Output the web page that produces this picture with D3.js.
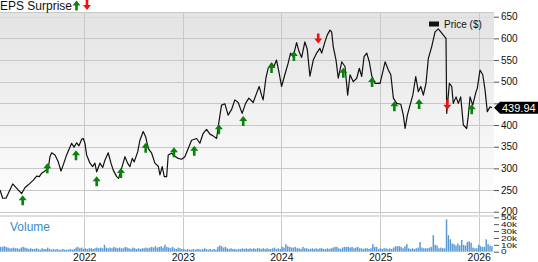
<!DOCTYPE html>
<html>
<head>
<meta charset="utf-8">
<script src="https://d3js.org/d3.v7.min.js"></script>
<style>
  body { margin: 0; background: #fff; }
  svg { display: block; font-family: "Liberation Sans", Arial, sans-serif; }
</style>
</head>
<body>
<script>
// Price line (dates are decimal years, close in $)
var priceDates = [
  2021.145, 2021.172, 2021.206, 2021.274, 2021.331, 2021.365, 2021.399, 2021.432, 2021.483, 2021.517,
  2021.544, 2021.568, 2021.601, 2021.635, 2021.652, 2021.669, 2021.703, 2021.736, 2021.764, 2021.787,
  2021.821, 2021.872, 2021.896, 2021.923, 2021.946, 2021.974, 2021.990, 2022.007, 2022.024, 2022.058,
  2022.085, 2022.108, 2022.126, 2022.159, 2022.187, 2022.210, 2022.243, 2022.271, 2022.294, 2022.329,
  2022.349, 2022.379, 2022.413, 2022.440, 2022.463, 2022.487, 2022.507, 2022.542, 2022.565, 2022.598,
  2022.623, 2022.649, 2022.684, 2022.717, 2022.751, 2022.768, 2022.791, 2022.812, 2022.836, 2022.852,
  2022.886, 2022.920, 2022.953, 2022.988, 2023.021, 2023.055, 2023.089, 2023.140, 2023.173, 2023.207,
  2023.241, 2023.275, 2023.308, 2023.343, 2023.359, 2023.393, 2023.427, 2023.460, 2023.495, 2023.528,
  2023.562, 2023.602, 2023.637, 2023.670, 2023.714, 2023.748, 2023.775, 2023.799, 2023.815, 2023.843,
  2023.866, 2023.901, 2023.924, 2023.951, 2023.978, 2024.002, 2024.035, 2024.069, 2024.093, 2024.120,
  2024.154, 2024.180, 2024.205, 2024.238, 2024.262, 2024.289, 2024.323, 2024.357, 2024.390, 2024.408,
  2024.441, 2024.465, 2024.492, 2024.509, 2024.525, 2024.553, 2024.576, 2024.611, 2024.644, 2024.671,
  2024.695, 2024.728, 2024.763, 2024.789, 2024.813, 2024.837, 2024.864, 2024.890, 2024.915, 2024.948,
  2024.999, 2025.050, 2025.083, 2025.108, 2025.134, 2025.168, 2025.209, 2025.235, 2025.253, 2025.276,
  2025.303, 2025.331, 2025.361, 2025.387, 2025.412, 2025.438, 2025.465, 2025.489, 2025.523, 2025.557,
  2025.590, 2025.625, 2025.668, 2025.675, 2025.702, 2025.726, 2025.742, 2025.770, 2025.793, 2025.817,
  2025.844, 2025.878, 2025.895, 2025.912, 2025.939, 2025.973, 2025.986, 2026.013, 2026.041, 2026.064,
  2026.087, 2026.115, 2026.135
];
var priceValues = [
  250, 231, 231, 264, 250, 242, 256, 262, 273, 282,
  281, 289, 294, 300, 327, 336, 331, 315, 294, 308,
  331, 358, 349, 359, 352, 367, 369, 358, 331, 312,
  304, 312, 292, 312, 302, 319, 336, 312, 296, 281,
  277, 300, 327, 312, 304, 323, 315, 338, 365, 385,
  373, 346, 335, 312, 305, 285, 304, 281, 281, 331,
  335, 328, 323, 321, 327, 346, 365, 369, 358, 381,
  390, 379, 375, 369, 396, 446, 449, 423, 436, 458,
  452, 427, 450, 462, 452, 473, 489, 469, 458, 508,
  531, 543, 535, 550, 519, 489, 516, 543, 566, 558,
  590, 569, 556, 592, 575, 513, 550, 566, 577, 566,
  592, 608, 619, 615, 581, 550, 508, 546, 535, 469,
  516, 500, 508, 531, 512, 558, 566, 546, 513, 496,
  496, 546, 527, 516, 462, 450, 448, 423, 392, 423,
  446, 469, 512, 477, 489, 469, 496, 554, 581, 615,
  622, 612, 600, 427, 496, 489, 450, 465, 450, 465,
  400, 392, 423, 465, 446, 477, 485, 527, 516, 481,
  431, 442, 439.94
];
var lastPrice = 439.94;

// EPS surprise markers (report date, price at marker, direction)
var epsDates = [2021.375, 2021.625, 2021.916, 2022.126, 2022.372, 2022.623, 2022.910, 2023.116, 2023.366, 2023.613,
                2023.900, 2024.127, 2024.373, 2024.627, 2024.918, 2025.144, 2025.395, 2025.681, 2025.929];
var epsPrices = [238, 312, 342, 282, 301, 359, 349, 352, 402, 421,
                 543, 571, 588, 532, 511, 455, 460, 435, 448];
var epsSurprise = ["up", "up", "up", "up", "up", "up", "up", "up", "up", "up",
                   "up", "up", "down", "up", "up", "up", "up", "down", "up"];

// Weekly volume in thousands, first week starts 2021-02-22
var volumeK = [
  // 2021
  7, 7, 8, 7, 6, 5, 5, 6, 5, 5, 4, 6, 7, 6, 5, 4, 5, 4, 4, 5, 4, 3, 5, 4, 4, 6, 4, 3, 4, 3,
  4, 3, 3, 4, 3, 3, 3, 4, 3, 4, 6, 7, 5, 6, 4,
  // 2022
  5, 4, 5, 5, 4, 5, 6, 5, 6, 5, 10, 6, 5, 6, 5, 7, 6, 5, 6, 5, 5, 7, 6, 5, 4, 6, 5, 4, 5, 4,
  5, 5, 6, 5, 6, 7, 6, 8, 6, 7, 8, 6, 10, 7, 6, 5, 7, 5, 4, 6, 5, 4,
  // 2023
  4, 3, 4, 3, 3, 4, 3, 4, 4, 3, 4, 5, 4, 3, 4, 3, 4, 3, 7, 9, 8, 6, 7, 5, 4, 5, 4, 4, 3, 4,
  4, 5, 4, 5, 4, 5, 4, 5, 4, 5, 5, 4, 5, 4, 5, 4, 4, 5, 6, 4, 5, 4,
  // 2024
  7, 6, 11, 8, 7, 6, 6, 7, 5, 5, 4, 7, 5, 5, 4, 4, 5, 4, 5, 4, 5, 5, 4, 4, 5, 4, 5, 6, 7, 7,
  5, 4, 6, 7, 7, 7, 6, 7, 5, 6, 7, 5, 5, 4, 5, 5, 4, 5, 11, 7, 7, 4,
  // 2025 - 2026
  5, 4, 5, 5, 4, 5, 4, 6, 8, 8, 8, 7, 5, 8, 11, 5, 4, 5, 4, 5, 6, 14, 6, 5, 5, 5, 6, 7, 24, 10,
  9, 5, 6, 5, 5, 47, 24, 18, 12, 11, 9, 12, 9, 17, 10, 9, 14, 15, 13, 6, 5, 5, 10, 8, 7, 7,
  18, 11, 9, 8
];

var priceTicks = [200, 250, 300, 350, 400, 450, 500, 550, 600, 650];
var volumeTicks = [0, 10, 20, 30, 40, 50];

// decimal year -> Date
function toDate(t) {
  var y = Math.floor(t);
  var a = new Date(y, 0, 1), b = new Date(y + 1, 0, 1);
  return new Date(+a + (t - y) * (b - a));
}

var width = 538, height = 262;
var plotRight = 494, plotTop = 12.5;
var priceTop = 16.7, priceBottom = 211.7;
var volTop = 217.3, volBottom = 251.7;

var svg = d3.select("body").append("svg")
    .attr("width", width)
    .attr("height", height);

var x = d3.scaleTime()
    .domain([toDate(2021.145), toDate(2026.155)])
    .range([0, plotRight]);
var y = d3.scaleLinear().domain([200, 650]).range([priceBottom, priceTop]);
var yv = d3.scaleLinear().domain([0, 50]).range([volBottom, volTop]);

// background gradient of the price panel
var grad = svg.append("defs").append("linearGradient")
    .attr("id", "bg").attr("x1", 0).attr("y1", 0).attr("x2", 0).attr("y2", 1);
grad.append("stop").attr("offset", "0%").attr("stop-color", "#e3e3e3");
grad.append("stop").attr("offset", "100%").attr("stop-color", "#ffffff");

svg.append("rect")
    .attr("x", 0).attr("y", plotTop)
    .attr("width", plotRight).attr("height", priceBottom - plotTop)
    .attr("fill", "url(#bg)");

// grid lines
svg.append("line")
    .attr("x1", 0).attr("x2", plotRight)
    .attr("y1", plotTop).attr("y2", plotTop)
    .attr("stroke", "#c8c8c8");

svg.selectAll("line.hgrid")
  .data(priceTicks)
  .enter().append("line")
    .attr("class", "hgrid")
    .attr("x1", 0).attr("x2", plotRight)
    .attr("y1", function(d) { return Math.round(y(d)) + 0.5; })
    .attr("y2", function(d) { return Math.round(y(d)) + 0.5; })
    .attr("stroke", function(d) { return d == 650 ? "#dcdcdc" : "#c8c8c8"; });

var years = x.ticks(d3.timeYear);
svg.selectAll("line.vgrid")
  .data(years)
  .enter().append("line")
    .attr("class", "vgrid")
    .attr("x1", function(d) { return Math.round(x(d)) + 0.5; })
    .attr("x2", function(d) { return Math.round(x(d)) + 0.5; })
    .attr("y1", plotTop).attr("y2", volBottom)
    .attr("stroke", "#c8c8c8");

// separator between price and volume panels
svg.append("rect")
    .attr("x", 0).attr("y", 215)
    .attr("width", plotRight).attr("height", 2)
    .attr("fill", "#dedede");

// volume bars
var week0 = new Date(2021, 1, 22);
svg.selectAll("rect.vol")
  .data(volumeK)
  .enter().append("rect")
    .attr("class", "vol")
    .attr("x", function(d, i) { return x(d3.timeWeek.offset(week0, i)); })
    .attr("width", function(d, i) {
      return x(d3.timeWeek.offset(week0, i + 1)) - x(d3.timeWeek.offset(week0, i)) - 0.4;
    })
    .attr("y", function(d) { return yv(d); })
    .attr("height", function(d) { return volBottom - yv(d); })
    .attr("fill", "#5b9bd5");

svg.append("text")
    .attr("x", 10).attr("y", 231)
    .attr("font-size", 12)
    .attr("fill", "#3d8bc9")
    .text("Volume");

// price line
var line = d3.line()
    .x(function(d) { return x(toDate(d[0])); })
    .y(function(d) { return y(d[1]); });

svg.append("path")
    .datum(d3.zip(priceDates, priceValues))
    .attr("d", line)
    .attr("fill", "none")
    .attr("stroke", "#111")
    .attr("stroke-width", 1.2)
    .attr("stroke-linejoin", "round");

// arrow shapes, tip at 0,0
var upArrow = "M0,0 L-4,5 L-1.3,5 L-1.3,10 L1.3,10 L1.3,5 L4,5 Z";
var downArrow = "M0,0 L-4,-5 L-1.3,-5 L-1.3,-10 L1.3,-10 L1.3,-5 L4,-5 Z";

svg.selectAll("path.eps")
  .data(d3.range(epsDates.length))
  .enter().append("path")
    .attr("class", "eps")
    .attr("transform", function(i) {
      return "translate(" + x(toDate(epsDates[i])) + "," + y(epsPrices[i]) + ")";
    })
    .attr("d", function(i) { return epsSurprise[i] == "up" ? upArrow : downArrow; })
    .attr("fill", function(i) { return epsSurprise[i] == "up" ? "#0a820a" : "#ee1111"; });

// header
svg.append("text")
    .attr("x", 0).attr("y", 10)
    .attr("font-size", 12)
    .attr("fill", "#111")
    .text("EPS Surprise");
svg.append("path").attr("transform", "translate(76.5,0.5)").attr("d", upArrow).attr("fill", "#0a820a");
svg.append("path").attr("transform", "translate(87,10)").attr("d", downArrow).attr("fill", "#ee1111");

// legend
svg.append("rect")
    .attr("x", 429).attr("y", 21.5)
    .attr("width", 10).attr("height", 5)
    .attr("fill", "#111");
svg.append("text")
    .attr("x", 444).attr("y", 27.5)
    .attr("font-size", 10)
    .attr("fill", "#111")
    .text("Price ($)");

// right axes (the 450 label sits under the last price tag)
var priceAxis = d3.axisRight(y).tickValues(priceTicks).tickSize(5).tickPadding(2)
    .tickFormat(function(d) { return d == 450 ? "" : d; });
svg.append("g")
    .attr("transform", "translate(" + plotRight + ",0)")
    .call(priceAxis)
    .call(function(g) {
      g.select(".domain").remove();
      g.selectAll("line").attr("stroke", "#555");
      g.selectAll("text").attr("font-size", 10).attr("fill", "#111").attr("font-family", null);
    });

// volume labels are squeezed vertically to fit the short panel
var volAxis = d3.axisRight(yv).tickValues(volumeTicks).tickSize(5).tickPadding(2)
    .tickFormat(function(d) { return d == 0 ? "0" : d + "k"; });
svg.append("g")
    .attr("transform", "translate(" + plotRight + ",0)")
    .call(volAxis)
    .call(function(g) {
      g.select(".domain").remove();
      g.selectAll("line").attr("stroke", "#555");
      g.selectAll("text")
        .attr("font-size", 10).attr("fill", "#111").attr("font-family", null)
        .attr("transform", "scale(1,0.68)");
    });

// bottom year labels
var xAxis = d3.axisBottom(x).tickValues(years).tickSize(0).tickPadding(2)
    .tickFormat(d3.timeFormat("%Y"));
svg.append("g")
    .attr("transform", "translate(0," + volBottom + ")")
    .call(xAxis)
    .call(function(g) {
      g.select(".domain").remove();
      g.selectAll("text").attr("font-size", 10.5).attr("fill", "#111").attr("font-family", null);
    });

// last price tag
var ly = y(lastPrice);
svg.append("path")
    .attr("d", "M" + plotRight + "," + ly + " L" + (plotRight + 6) + "," + (ly - 6) +
               " L" + width + "," + (ly - 6) + " L" + width + "," + (ly + 6) +
               " L" + (plotRight + 6) + "," + (ly + 6) + " Z")
    .attr("fill", "#000");
svg.append("text")
    .attr("x", 502).attr("y", ly + 4)
    .attr("font-size", 11)
    .attr("fill", "#fff")
    .text(d3.format(".2f")(lastPrice));
</script>
</body>
</html>
